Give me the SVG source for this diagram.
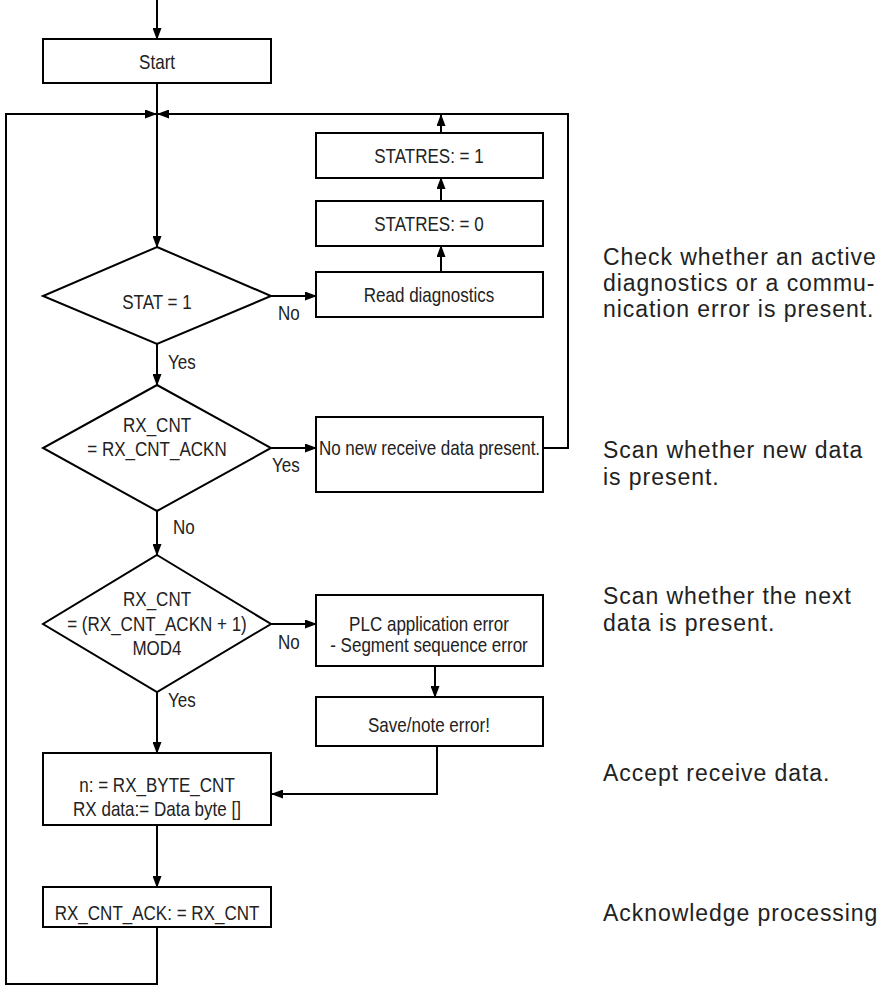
<svg xmlns="http://www.w3.org/2000/svg" width="880" height="985" viewBox="0 0 880 985">
<defs>
<marker id="ah" markerWidth="12" markerHeight="9" refX="11" refY="4.5" orient="auto" markerUnits="userSpaceOnUse">
<path d="M0,0 L12,4.5 L0,9 Z" fill="#000"/>
</marker>
<style>
.box{fill:#fff;stroke:#000;stroke-width:2}
.ln{fill:none;stroke:#000;stroke-width:2}
.t{font-family:"Liberation Sans",Arial,sans-serif;font-size:20.5px;fill:#222;text-anchor:middle;dominant-baseline:central;transform-box:fill-box;transform-origin:center;transform:scaleX(0.83)}
.l{font-family:"Liberation Sans",Arial,sans-serif;font-size:20.5px;fill:#222;dominant-baseline:central;transform-box:fill-box;transform-origin:left center;transform:scaleX(0.83)}
.r{font-family:"Liberation Sans",Arial,sans-serif;font-size:23px;letter-spacing:0.95px;fill:#222;dominant-baseline:central}
</style>
</defs>
<g id="connectors">
<line class="ln" x1="157" y1="0" x2="157" y2="39" marker-end="url(#ah)"/>
<line class="ln" x1="157" y1="83" x2="157" y2="247" marker-end="url(#ah)"/>
<polyline class="ln" points="157,927 157,984 6,984 6,114 156,114" marker-end="url(#ah)"/>
<polyline class="ln" points="543,448 568,448 568,114 158,114" marker-end="url(#ah)"/>
<line class="ln" x1="271" y1="296" x2="316" y2="296" marker-end="url(#ah)"/>
<line class="ln" x1="441" y1="272" x2="441" y2="246" marker-end="url(#ah)"/>
<line class="ln" x1="441" y1="201" x2="441" y2="178" marker-end="url(#ah)"/>
<line class="ln" x1="441" y1="133" x2="441" y2="115" marker-end="url(#ah)"/>
<line class="ln" x1="157" y1="344" x2="157" y2="385" marker-end="url(#ah)"/>
<line class="ln" x1="271" y1="448" x2="316" y2="448" marker-end="url(#ah)"/>
<line class="ln" x1="157" y1="511" x2="157" y2="555" marker-end="url(#ah)"/>
<line class="ln" x1="271" y1="624" x2="316" y2="624" marker-end="url(#ah)"/>
<line class="ln" x1="435" y1="666" x2="435" y2="697" marker-end="url(#ah)"/>
<polyline class="ln" points="437,746 437,794 272,794" marker-end="url(#ah)"/>
<line class="ln" x1="157" y1="692" x2="157" y2="753" marker-end="url(#ah)"/>
<line class="ln" x1="157" y1="825" x2="157" y2="887" marker-end="url(#ah)"/>
<text class="l" x="278" y="313">No</text>
<text class="l" x="168" y="362">Yes</text>
<text class="l" x="272" y="465">Yes</text>
<text class="l" x="173" y="527">No</text>
<text class="l" x="278" y="642">No</text>
<text class="l" x="168" y="700">Yes</text>
</g>
<g id="start"><rect class="box" x="43" y="39" width="228" height="44"/><text class="t" x="157" y="62">Start</text></g>
<g id="stat"><polygon class="box" points="157,247 271,296 157,344 43,296"/><text class="t" x="157" y="302">STAT = 1</text></g>
<g id="readdiag"><rect class="box" x="316" y="272" width="227" height="45"/><text class="t" x="429" y="295">Read diagnostics</text></g>
<g id="statres0"><rect class="box" x="316" y="201" width="227" height="45"/><text class="t" x="429" y="224">STATRES: = 0</text></g>
<g id="statres1"><rect class="box" x="316" y="133" width="227" height="45"/><text class="t" x="429" y="156">STATRES: = 1</text></g>
<g id="rxcnt1"><polygon class="box" points="157,385 271,448 157,511 43,448"/><text class="t" x="157" y="425">RX_CNT</text><text class="t" x="157" y="449">= RX_CNT_ACKN</text></g>
<g id="nonew"><rect class="box" x="316" y="417" width="227" height="75"/><text class="t" x="429.5" y="448">No new receive data present.</text></g>
<g id="rxcnt2"><polygon class="box" points="157,555 271,624 157,692 43,624"/><text class="t" x="157" y="599">RX_CNT</text><text class="t" x="157" y="624">= (RX_CNT_ACKN + 1)</text><text class="t" x="157" y="648">MOD4</text></g>
<g id="plcerr"><rect class="box" x="316" y="595" width="227" height="71"/><text class="t" x="429" y="624">PLC application error</text><text class="t" x="429" y="645">- Segment sequence error</text></g>
<g id="save"><rect class="box" x="316" y="697" width="227" height="49"/><text class="t" x="429" y="725">Save/note error!</text></g>
<g id="accept"><rect class="box" x="43" y="753" width="228" height="72"/><text class="t" x="157" y="785">n: = RX_BYTE_CNT</text><text class="t" x="157" y="809">RX data:= Data byte []</text></g>
<g id="ack"><rect class="box" x="43" y="887" width="228" height="40"/><text class="t" x="157" y="913">RX_CNT_ACK: = RX_CNT</text></g>
<g id="notes">
<text class="r" x="603" y="257">Check whether an active</text>
<text class="r" x="603" y="283">diagnostics or a commu-</text>
<text class="r" x="603" y="309">nication error is present.</text>
<text class="r" x="603" y="450">Scan whether new data</text>
<text class="r" x="603" y="477">is present.</text>
<text class="r" x="603" y="596">Scan whether the next</text>
<text class="r" x="603" y="623">data is present.</text>
<text class="r" x="603" y="773">Accept receive data.</text>
<text class="r" x="603" y="913">Acknowledge processing</text>
</g>
</svg>
